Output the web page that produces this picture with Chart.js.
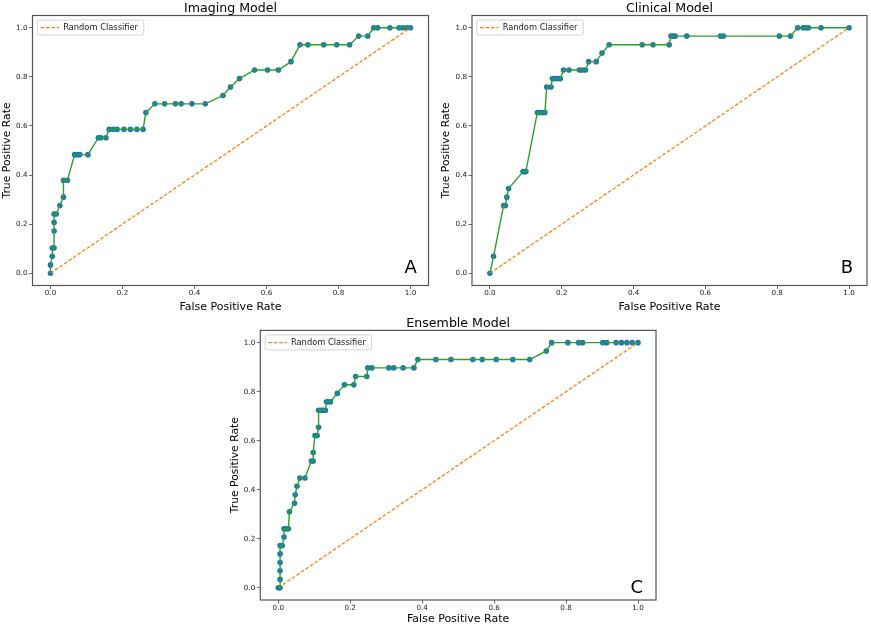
<!DOCTYPE html>
<html><head><meta charset="utf-8">
<script src="https://cdn.jsdelivr.net/npm/chart.js@4.4.1/dist/chart.umd.min.js"></script>
<style>
html,body{margin:0;padding:0;background:#fff;}
#wrap{position:relative;width:871px;height:626px;overflow:hidden;background:#fff;}
canvas{position:absolute;}
</style></head><body>
<div id="wrap">
<canvas id="cA" width="436" height="315" style="left:0px;top:0px;width:436px;height:315px"></canvas>
<canvas id="cB" width="436" height="315" style="left:435px;top:0px;width:436px;height:315px"></canvas>
<canvas id="cC" width="440" height="316" style="left:220px;top:310px;width:440px;height:316px"></canvas>
</div>
<script>
// ---- data ----
const tickValues = [0.0, 0.2, 0.4, 0.6, 0.8, 1.0];
const diagFpr = [0, 1];
const diagTpr = [0, 1];

const imagingFpr = [0.000,0.000,0.005,0.005,0.010,0.010,0.010,0.010,0.016,0.026,0.036,0.036,0.047,0.067,0.074,0.081,0.104,0.133,0.140,0.154,0.163,0.174,0.185,0.204,0.222,0.240,0.257,0.265,0.290,0.317,0.347,0.363,0.393,0.430,0.479,0.500,0.525,0.567,0.603,0.633,0.668,0.693,0.715,0.759,0.795,0.831,0.856,0.881,0.898,0.909,0.943,0.968,0.979,0.990,1.000];
const imagingTpr = [0.000,0.034,0.069,0.103,0.103,0.172,0.207,0.241,0.241,0.276,0.310,0.379,0.379,0.483,0.483,0.483,0.483,0.552,0.552,0.552,0.586,0.586,0.586,0.586,0.586,0.586,0.586,0.655,0.690,0.690,0.690,0.690,0.690,0.690,0.724,0.759,0.793,0.828,0.828,0.828,0.862,0.931,0.931,0.931,0.931,0.931,0.966,0.966,1.000,1.000,1.000,1.000,1.000,1.000,1.000];

const clinicalFpr = [0.000,0.010,0.038,0.043,0.047,0.052,0.092,0.097,0.100,0.132,0.139,0.146,0.153,0.158,0.170,0.174,0.181,0.189,0.196,0.205,0.220,0.249,0.257,0.266,0.275,0.296,0.312,0.332,0.424,0.454,0.499,0.504,0.510,0.516,0.548,0.642,0.650,0.806,0.837,0.857,0.872,0.880,0.887,0.922,1.000];
const clinicalTpr = [0.000,0.069,0.276,0.276,0.310,0.345,0.414,0.414,0.414,0.655,0.655,0.655,0.655,0.759,0.759,0.793,0.793,0.793,0.793,0.828,0.828,0.828,0.828,0.828,0.862,0.862,0.897,0.931,0.931,0.931,0.931,0.966,0.966,0.966,0.966,0.966,0.966,0.966,0.966,1.000,1.000,1.000,1.000,1.000,1.000];

const ensembleFpr = [0.000,0.005,0.005,0.005,0.005,0.005,0.005,0.011,0.016,0.016,0.021,0.028,0.031,0.045,0.047,0.052,0.060,0.074,0.092,0.097,0.097,0.102,0.108,0.112,0.112,0.119,0.125,0.131,0.134,0.139,0.145,0.164,0.184,0.210,0.215,0.246,0.249,0.260,0.307,0.321,0.347,0.377,0.388,0.438,0.480,0.541,0.567,0.606,0.652,0.699,0.745,0.760,0.805,0.835,0.846,0.902,0.913,0.939,0.954,0.969,0.984,1.000];
const ensembleTpr = [0.000,0.000,0.034,0.069,0.103,0.138,0.172,0.172,0.207,0.241,0.241,0.241,0.310,0.345,0.379,0.414,0.448,0.448,0.517,0.517,0.552,0.621,0.621,0.655,0.724,0.724,0.724,0.724,0.759,0.759,0.759,0.793,0.828,0.828,0.862,0.862,0.897,0.897,0.897,0.897,0.897,0.897,0.931,0.931,0.931,0.931,0.931,0.931,0.931,0.931,0.966,1.000,1.000,1.000,1.000,1.000,1.000,1.000,1.000,1.000,1.000,1.000];

// ---- helpers ----
const FONT = '"DejaVu Sans", "Liberation Sans", sans-serif';
const toPts = (xs, ys) => xs.map((x, i) => ({x: x, y: ys[i]}));

const framePlugin = {
  id: 'frame',
  afterLayout(chart) {
    const lg = chart.legend, a = chart.chartArea;
    if (lg && a) {
      const dy = a.top - lg.top;
      lg.top += dy;
      lg.bottom += dy;
      (lg.legendHitBoxes || []).forEach(hb => { hb.top += dy; });
    }
  },
  beforeDraw(chart) {
    const lg = chart.legend;
    if (lg && lg.legendHitBoxes && lg.legendHitBoxes.length) {
      const hb = lg.legendHitBoxes[0];
      const ctx = chart.ctx;
      const x0 = hb.left - 3.2, y0 = hb.top - 3.5;
      const x1 = hb.left + hb.width + 5.8, y1 = hb.top + hb.height + 3.2;
      ctx.save();
      ctx.beginPath();
      ctx.roundRect(x0, y0, x1 - x0, y1 - y0, 2);
      ctx.fillStyle = 'rgba(255,255,255,0.9)';
      ctx.fill();
      ctx.strokeStyle = '#d4d4d4';
      ctx.lineWidth = 1;
      ctx.stroke();
      ctx.restore();
    }
  },
  afterDraw(chart, args, opts) {
    const ctx = chart.ctx, a = chart.chartArea;
    ctx.save();
    ctx.strokeStyle = '#555';
    ctx.lineWidth = 1.2;
    ctx.strokeRect(a.left, a.top, a.right - a.left, a.bottom - a.top);
    if (opts.letter) {
      ctx.font = '18px ' + FONT;
      ctx.fillStyle = '#000';
      ctx.textAlign = 'right';
      ctx.textBaseline = 'alphabetic';
      ctx.fillText(opts.letter, a.right - opts.dx, a.bottom - opts.dy);
    }
    ctx.restore();
  }
};

function legendLabels(chart) {
  const items = Chart.defaults.plugins.legend.labels.generateLabels(chart);
  return items.filter(it => it.text === 'Random Classifier').map(it => {
    const ds = chart.data.datasets[it.datasetIndex];
    it.lineDash = ds.borderDash;
    it.lineWidth = ds.borderWidth;
    it.strokeStyle = ds.borderColor;
    it.fillStyle = ds.borderColor;
    it.pointStyle = 'line';
    return it;
  });
}

function makeChart(id, fpr, tpr, titleText, g) {
  const tickFmt = v => Number(v).toFixed(1);
  const setTicks = s => { s.ticks = tickValues.map(v => ({value: v})); };
  return new Chart(document.getElementById(id), {
    type: 'scatter',
    data: {
      datasets: [
        { label: 'ROC', data: toPts(fpr, tpr), showLine: true, borderColor: '#2ca02c',
          borderWidth: 1.4, pointRadius: 0, tension: 0, fill: false },
        { label: 'Random Classifier', data: toPts(diagFpr, diagTpr), showLine: true,
          borderColor: '#ff7f0e', backgroundColor: '#ff7f0e', borderWidth: 1.3,
          borderDash: [3.5, 2], pointRadius: 0, tension: 0, fill: false },
        { label: 'points', data: toPts(fpr, tpr), showLine: false, pointRadius: 2.8,
          pointBackgroundColor: '#1f77b4', pointBorderWidth: 0, backgroundColor: '#1f77b4' }
      ]
    },
    options: {
      responsive: false,
      animation: false,
      devicePixelRatio: 1,
      layout: { padding: { left: 0, top: 0, right: g.padRight, bottom: 0 } },
      plugins: {
        title: { display: true, text: titleText, fullSize: false, color: '#000',
          font: { family: FONT, size: 12.6, weight: 'normal', lineHeight: 1.0 },
          padding: { top: g.titleTop, bottom: g.titleBottom } },
        legend: {
          position: 'chartArea', align: 'start',
          labels: {
            generateLabels: legendLabels,
            usePointStyle: true, pointStyle: 'line', pointStyleWidth: 18.5,
            boxHeight: 8, padding: 8, color: '#222',
            font: { family: FONT, size: 8.3 }
          }
        },
        tooltip: { enabled: false },
        frame: { letter: g.letter, dx: g.dx, dy: g.dy }
      },
      scales: {
        x: {
          type: 'linear', min: -0.05, max: 1.05,
          afterBuildTicks: setTicks,
          afterFit: s => { s.height = g.xAxisHeight; },
          ticks: { callback: tickFmt, color: '#1a1a1a', padding: 0, autoSkip: false, maxRotation: 0,
            font: { family: FONT, size: 7.2 } },
          grid: { display: true, drawOnChartArea: false, drawTicks: true, tickLength: 3.5,
            color: '#444', lineWidth: 0.8 },
          border: { display: false },
          title: { display: true, text: 'False Positive Rate', color: '#000',
            font: { family: FONT, size: 11 }, padding: { top: 0, bottom: g.xTitlePad } }
        },
        y: {
          type: 'linear', min: -0.05, max: 1.05,
          afterBuildTicks: setTicks,
          afterFit: s => { s.width = g.yAxisWidth; },
          ticks: { callback: tickFmt, color: '#1a1a1a', padding: 1.5, autoSkip: false,
            font: { family: FONT, size: 7.2 } },
          grid: { display: true, drawOnChartArea: false, drawTicks: true, tickLength: 3.5,
            color: '#444', lineWidth: 0.8 },
          border: { display: false },
          title: { display: true, text: 'True Positive Rate', color: '#000',
            font: { family: FONT, size: 10.8 }, padding: { top: g.yTitlePad, bottom: 0 } }
        }
      }
    },
    plugins: [framePlugin]
  });
}

makeChart('cA', imagingFpr, imagingTpr, 'Imaging Model',
  { padRight: 7.5, yAxisWidth: 32.5, xAxisHeight: 29.5, titleTop: 2.4, titleBottom: 0.5,
    xTitlePad: 1.4, yTitlePad: 0.7, letter: 'A', dx: 11.6, dy: 12.6 });
makeChart('cB', clinicalFpr, clinicalTpr, 'Clinical Model',
  { padRight: 3, yAxisWidth: 37, xAxisHeight: 29.5, titleTop: 2.4, titleBottom: 0.5,
    xTitlePad: 1.4, yTitlePad: 5.2, letter: 'B', dx: 14, dy: 12.6 });
makeChart('cC', ensembleFpr, ensembleTpr, 'Ensemble Model',
  { padRight: 4, yAxisWidth: 40.3, xAxisHeight: 26, titleTop: 7.2, titleBottom: 0.6,
    xTitlePad: 0, yTitlePad: 8.7, letter: 'C', dx: 13, dy: 7.3 });
</script>
</body></html>
